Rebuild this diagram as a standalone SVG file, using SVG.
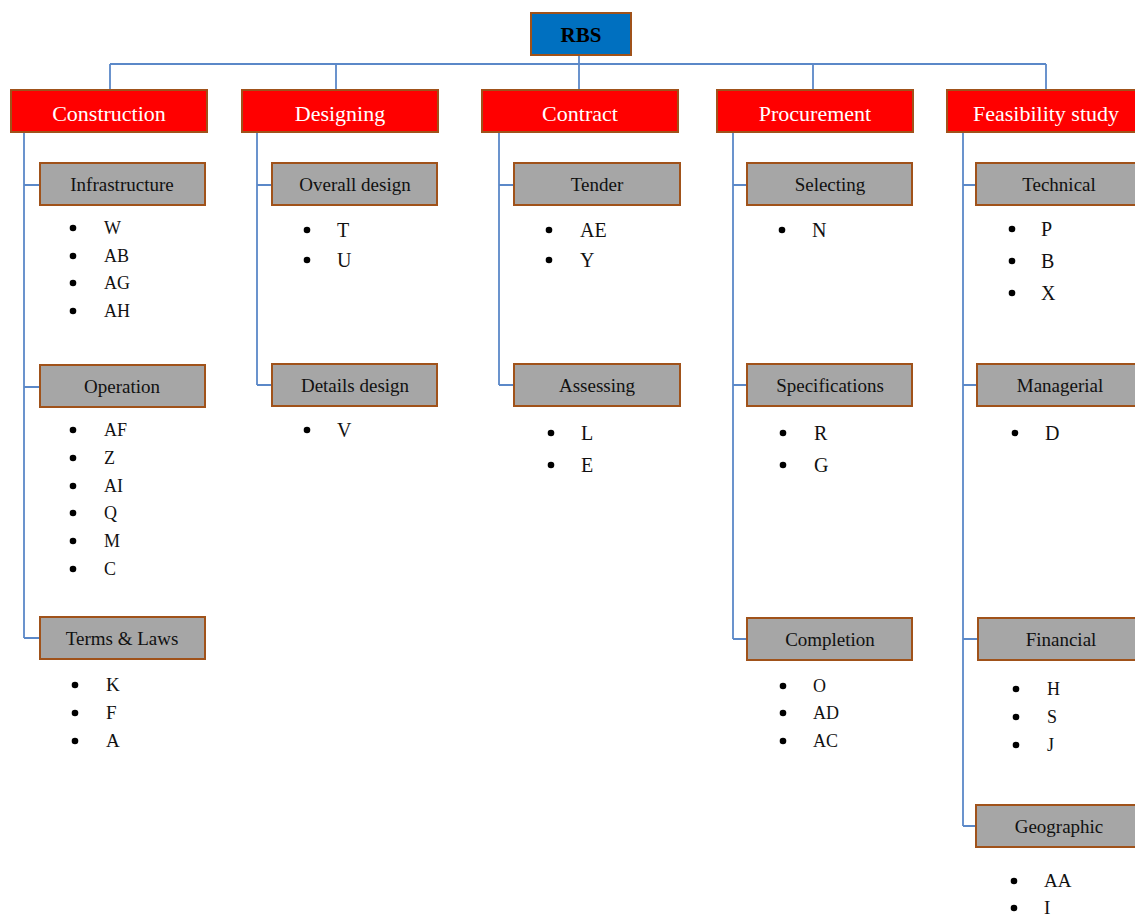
<svg xmlns="http://www.w3.org/2000/svg" width="1135" height="916" viewBox="0 0 1135 916">
<style>
.bg{fill:#ffffff}
.ln{stroke:#5B88C8;stroke-width:1.8;fill:none}
.root{fill:#0070C0;stroke:#A0521A;stroke-width:2}
.top{fill:#FF0000;stroke:#A0521A;stroke-width:2}
.sub{fill:#A6A6A6;stroke:#A0521A;stroke-width:2}
text{font-family:"Liberation Serif","Times New Roman",serif}
.rt{font-size:21px;font-weight:bold;fill:#000;text-anchor:middle}
.tt{font-size:22px;fill:#fff;text-anchor:middle}
.st{font-size:19px;fill:#111;text-anchor:middle}
.b{fill:#000}
.i16{font-size:18px;fill:#111}
.i17{font-size:19px;fill:#111}
.i18{font-size:20px;fill:#111}
.i15{font-size:18px;fill:#111}
</style>
<rect class="bg" x="0" y="0" width="1135" height="916"/>
<g id="connectors">
<path class="ln" d="M110 64H1046M110 64V90M336 64V90M579 55V90M813 64V90M1046 64V90"/>
<path class="ln" d="M24 132V638M24 185H40M24 387H40M24 638H40"/>
<path class="ln" d="M257 132V385M257 185H272M257 385H272"/>
<path class="ln" d="M499 132V385M499 185H514M499 385H514"/>
<path class="ln" d="M733 132V639M733 185H747M733 385H747M733 639H747"/>
<path class="ln" d="M963 132V826M963 185H976M963 385H976M963 639H978M963 826H976"/>
</g>
<g id="rbs"><rect class="root" x="531" y="13" width="100" height="42"/><text class="rt" x="581" y="42">RBS</text></g>
<g id="construction"><rect class="top" x="11" y="90" width="196" height="42"/><text class="tt" x="109" y="121">Construction</text></g>
<g id="designing"><rect class="top" x="242" y="90" width="196" height="42"/><text class="tt" x="340" y="121">Designing</text></g>
<g id="contract"><rect class="top" x="482" y="90" width="196" height="42"/><text class="tt" x="580" y="121">Contract</text></g>
<g id="procurement"><rect class="top" x="717" y="90" width="196" height="42"/><text class="tt" x="815" y="121">Procurement</text></g>
<g id="feasibility"><rect class="top" x="947" y="90" width="196" height="42"/><text class="tt" x="1046" y="121">Feasibility study</text></g>

<g id="infrastructure"><rect class="sub" x="40" y="163" width="165" height="42"/><text class="st" x="122" y="191">Infrastructure</text>
<g class="i16"><circle class="b" cx="73" cy="228" r="3.3"/><text x="104" y="234">W</text><circle class="b" cx="73" cy="256" r="3.3"/><text x="104" y="262">AB</text><circle class="b" cx="73" cy="283" r="3.3"/><text x="104" y="289">AG</text><circle class="b" cx="73" cy="311" r="3.3"/><text x="104" y="317">AH</text></g></g>
<g id="operation"><rect class="sub" x="40" y="365" width="165" height="42"/><text class="st" x="122" y="393">Operation</text>
<g class="i16"><circle class="b" cx="73" cy="430" r="3.3"/><text x="104" y="436">AF</text><circle class="b" cx="73" cy="458" r="3.3"/><text x="104" y="464">Z</text><circle class="b" cx="73" cy="486" r="3.3"/><text x="104" y="492">AI</text><circle class="b" cx="73" cy="513" r="3.3"/><text x="104" y="519">Q</text><circle class="b" cx="73" cy="541" r="3.3"/><text x="104" y="547">M</text><circle class="b" cx="73" cy="569" r="3.3"/><text x="104" y="575">C</text></g></g>
<g id="terms"><rect class="sub" x="40" y="617" width="165" height="42"/><text class="st" x="122" y="645">Terms &amp; Laws</text>
<g class="i17"><circle class="b" cx="75" cy="685" r="3.3"/><text x="106" y="691">K</text><circle class="b" cx="75" cy="713" r="3.3"/><text x="106" y="719">F</text><circle class="b" cx="75" cy="741" r="3.3"/><text x="106" y="747">A</text></g></g>

<g id="overall"><rect class="sub" x="272" y="163" width="165" height="42"/><text class="st" x="355" y="191">Overall design</text>
<g class="i18"><circle class="b" cx="307" cy="230" r="3.3"/><text x="337" y="237">T</text><circle class="b" cx="307" cy="260" r="3.3"/><text x="337" y="267">U</text></g></g>
<g id="details"><rect class="sub" x="272" y="364" width="165" height="42"/><text class="st" x="355" y="392">Details design</text>
<g class="i18"><circle class="b" cx="307" cy="430" r="3.3"/><text x="337" y="437">V</text></g></g>

<g id="tender"><rect class="sub" x="514" y="163" width="166" height="42"/><text class="st" x="597" y="191">Tender</text>
<g class="i18"><circle class="b" cx="549" cy="230" r="3.3"/><text x="580" y="237">AE</text><circle class="b" cx="549" cy="260" r="3.3"/><text x="580" y="267">Y</text></g></g>
<g id="assessing"><rect class="sub" x="514" y="364" width="166" height="42"/><text class="st" x="597" y="392">Assessing</text>
<g class="i18"><circle class="b" cx="551" cy="433" r="3.3"/><text x="581" y="440">L</text><circle class="b" cx="551" cy="465" r="3.3"/><text x="581" y="472">E</text></g></g>

<g id="selecting"><rect class="sub" x="747" y="163" width="165" height="42"/><text class="st" x="830" y="191">Selecting</text>
<g class="i18"><circle class="b" cx="782" cy="230" r="3.3"/><text x="812" y="237">N</text></g></g>
<g id="specifications"><rect class="sub" x="747" y="364" width="165" height="42"/><text class="st" x="830" y="392">Specifications</text>
<g class="i18"><circle class="b" cx="783" cy="433" r="3.3"/><text x="814" y="440">R</text><circle class="b" cx="783" cy="465" r="3.3"/><text x="814" y="472">G</text></g></g>
<g id="completion"><rect class="sub" x="747" y="618" width="165" height="42"/><text class="st" x="830" y="646">Completion</text>
<g class="i16"><circle class="b" cx="783" cy="686" r="3.3"/><text x="813" y="692">O</text><circle class="b" cx="783" cy="713" r="3.3"/><text x="813" y="719">AD</text><circle class="b" cx="783" cy="741" r="3.3"/><text x="813" y="747">AC</text></g></g>

<g id="technical"><rect class="sub" x="976" y="163" width="165" height="42"/><text class="st" x="1059" y="191">Technical</text>
<g class="i18"><circle class="b" cx="1012" cy="229" r="3.3"/><text x="1041" y="236">P</text><circle class="b" cx="1012" cy="261" r="3.3"/><text x="1041" y="268">B</text><circle class="b" cx="1012" cy="293" r="3.3"/><text x="1041" y="300">X</text></g></g>
<g id="managerial"><rect class="sub" x="977" y="364" width="165" height="42"/><text class="st" x="1060" y="392">Managerial</text>
<g class="i18"><circle class="b" cx="1015" cy="433" r="3.3"/><text x="1045" y="440">D</text></g></g>
<g id="financial"><rect class="sub" x="978" y="618" width="165" height="42"/><text class="st" x="1061" y="646">Financial</text>
<g class="i15"><circle class="b" cx="1016" cy="689" r="3.3"/><text x="1047" y="695">H</text><circle class="b" cx="1016" cy="717" r="3.3"/><text x="1047" y="723">S</text><circle class="b" cx="1016" cy="745" r="3.3"/><text x="1047" y="751">J</text></g></g>
<g id="geographic"><rect class="sub" x="976" y="805" width="165" height="42"/><text class="st" x="1059" y="833">Geographic</text>
<g class="i17"><circle class="b" cx="1014" cy="881" r="3.3"/><text x="1044" y="887">AA</text><circle class="b" cx="1014" cy="908" r="3.3"/><text x="1044" y="914">I</text></g></g>
</svg>
